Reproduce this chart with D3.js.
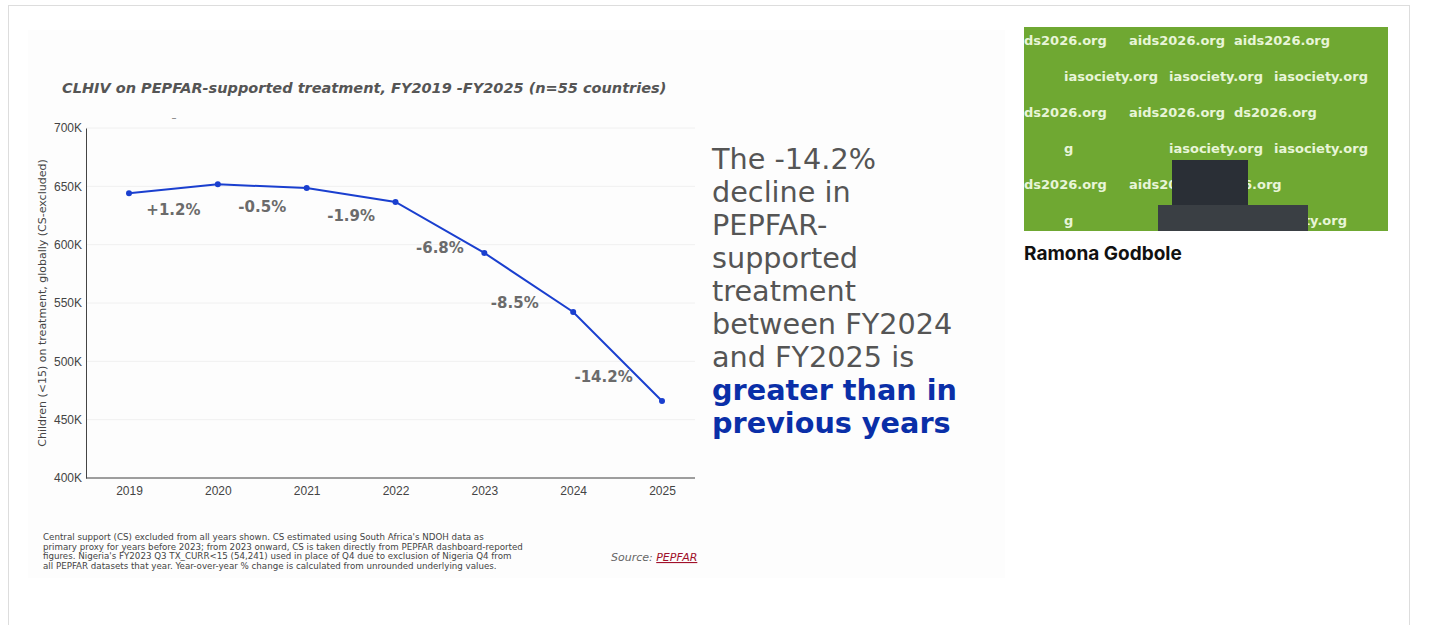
<!DOCTYPE html><html><head><meta charset="utf-8"><script src="https://cdn.jsdelivr.net/npm/d3@7"></script>
<style>body{margin:0;background:#fff;}svg{display:block;font-family:"DejaVu Sans",sans-serif;}</style></head><body>
<svg id="c" width="1456" height="625"></svg>
<script>
const years=["2019","2020","2021","2022","2023","2024","2025"];
const values=[644000,651700,648600,636600,592900,542300,466000];
const changes=["+1.2%","-0.5%","-1.9%","-6.8%","-8.5%","-14.2%"];
const yTicks=[400000,450000,500000,550000,600000,650000,700000];
const labelDx=[0,0,0,0,-14,-14];
const svg=d3.select("#c");
svg.append("rect").attr("x",8.5).attr("y",5.5).attr("width",1401).attr("height",640).attr("fill","#fff").attr("stroke","#ddd");
svg.append("rect").attr("x",28).attr("y",30).attr("width",977).attr("height",548).attr("fill","#fdfdfd");
const x=d3.scalePoint().domain(years).range([129,662]);
const y=d3.scaleLinear().domain([400000,700000]).range([478,128]);
const g=svg.append("g");
g.selectAll("line.grid").data(yTicks).join("line").attr("x1",86).attr("x2",695).attr("y1",d=>y(d)).attr("y2",d=>y(d)).attr("stroke","#f0f0f0");
const ya=g.append("g").attr("transform","translate(86,0)").call(d3.axisLeft(y).tickValues(yTicks).tickFormat(d=>d/1000+"K").tickSize(0).tickPadding(4));
ya.select(".domain").attr("stroke","#444");
ya.selectAll("text").attr("font-size",12).attr("fill","#444");
const xa=g.append("g").attr("transform","translate(0,478)").call(d3.axisBottom(x).tickSize(0).tickPadding(8));
xa.select(".domain").attr("d","M86,0H695").attr("stroke","#444");
xa.selectAll("text").attr("font-size",12).attr("fill","#444");
const line=d3.line().x((d,i)=>x(years[i])).y(d=>y(d));
g.append("path").attr("d",line(values)).attr("fill","none").attr("stroke","#1a3fcf").attr("stroke-width",2);
g.selectAll("circle").data(values).join("circle").attr("cx",(d,i)=>x(years[i])).attr("cy",d=>y(d)).attr("r",3).attr("fill","#1a3fcf");
g.selectAll("text.chg").data(changes).join("text").attr("class","chg")
 .attr("x",(d,i)=>(x(years[i])+x(years[i+1]))/2+labelDx[i]).attr("y",(d,i)=>(y(values[i])+y(values[i+1]))/2+26)
 .attr("text-anchor","middle").attr("font-size",15).attr("font-weight","bold").attr("fill","#6b6b6b").text(d=>d);
svg.append("text").attr("x",62).attr("y",93).attr("font-size",14.5).attr("font-weight","bold").attr("font-style","italic").attr("fill","#555").text("CLHIV on PEPFAR-supported treatment, FY2019 -FY2025 (n=55 countries)");
svg.append("text").attr("x",174).attr("y",121).attr("font-size",10).attr("fill","#777").attr("text-anchor","middle").text("–");
svg.append("text").attr("transform","translate(46,303) rotate(-90)").attr("text-anchor","middle").attr("font-size",11).attr("fill","#444").text("Children (<15) on treatment, globally (CS-excluded)");
const foot=["Central support (CS) excluded from all years shown. CS estimated using South Africa's NDOH data as","primary proxy for years before 2023; from 2023 onward, CS is taken directly from PEPFAR dashboard-reported","figures. Nigeria's FY2023 Q3 TX_CURR<15 (54,241) used in place of Q4 due to exclusion of Nigeria Q4 from","all PEPFAR datasets that year. Year-over-year % change is calculated from unrounded underlying values."];
svg.append("g").selectAll("text").data(foot).join("text").attr("x",43).attr("y",(d,i)=>540+i*9.5).attr("font-size",8.7).attr("fill","#444").text(d=>d);
const s=svg.append("text").attr("x",611).attr("y",561).attr("font-size",11).attr("font-style","italic").attr("fill","#666");
s.append("tspan").text("Source: ");s.append("tspan").attr("fill","#a0102a").attr("text-decoration","underline").text("PEPFAR");
const msg=[["The -14.2%",0],["decline in",0],["PEPFAR-",0],["supported",0],["treatment",0],["between FY2024",0],["and FY2025 is",0],["greater than in",1],["previous years",1]];
svg.append("g").selectAll("text").data(msg).join("text").attr("x",712).attr("y",(d,i)=>169+i*33).attr("font-size",28.7)
 .attr("font-family","DejaVu Sans, sans-serif").attr("font-weight",d=>d[1]?"bold":"normal").attr("fill",d=>d[1]?"#0a2fa8":"#555").text(d=>d[0]);
svg.append("rect").attr("x",1024).attr("y",27).attr("width",364).attr("height",204).attr("fill","#6fa832");
const wm=[["ds2026.org","aids2026.org","aids2026.org"],["iasociety.org","iasociety.org","iasociety.org"],["ds2026.org","aids2026.org","ds2026.org"],["g","iasociety.org","iasociety.org"],["ds2026.org","aids20","26.org"],["g","iasociety.org","ociety.org"]];
wm.forEach((r,i)=>r.forEach((t,j)=>svg.append("text").attr("x",1024+(i%2?40:0)+j*105).attr("y",45+i*36).attr("font-size",13).attr("font-weight","bold").attr("fill","#e8f5d8").text(t)));
svg.append("rect").attr("x",1172).attr("y",160).attr("width",76).attr("height",48).attr("fill","#2a2f36");
svg.append("rect").attr("x",1158).attr("y",205).attr("width",150).attr("height",26).attr("fill","#3a3f44");
svg.append("text").attr("x",1024).attr("y",260).attr("font-size",19).attr("font-weight","bold").attr("fill","#111").attr("font-family","Inter, sans-serif").text("Ramona Godbole");
</script></body></html>
